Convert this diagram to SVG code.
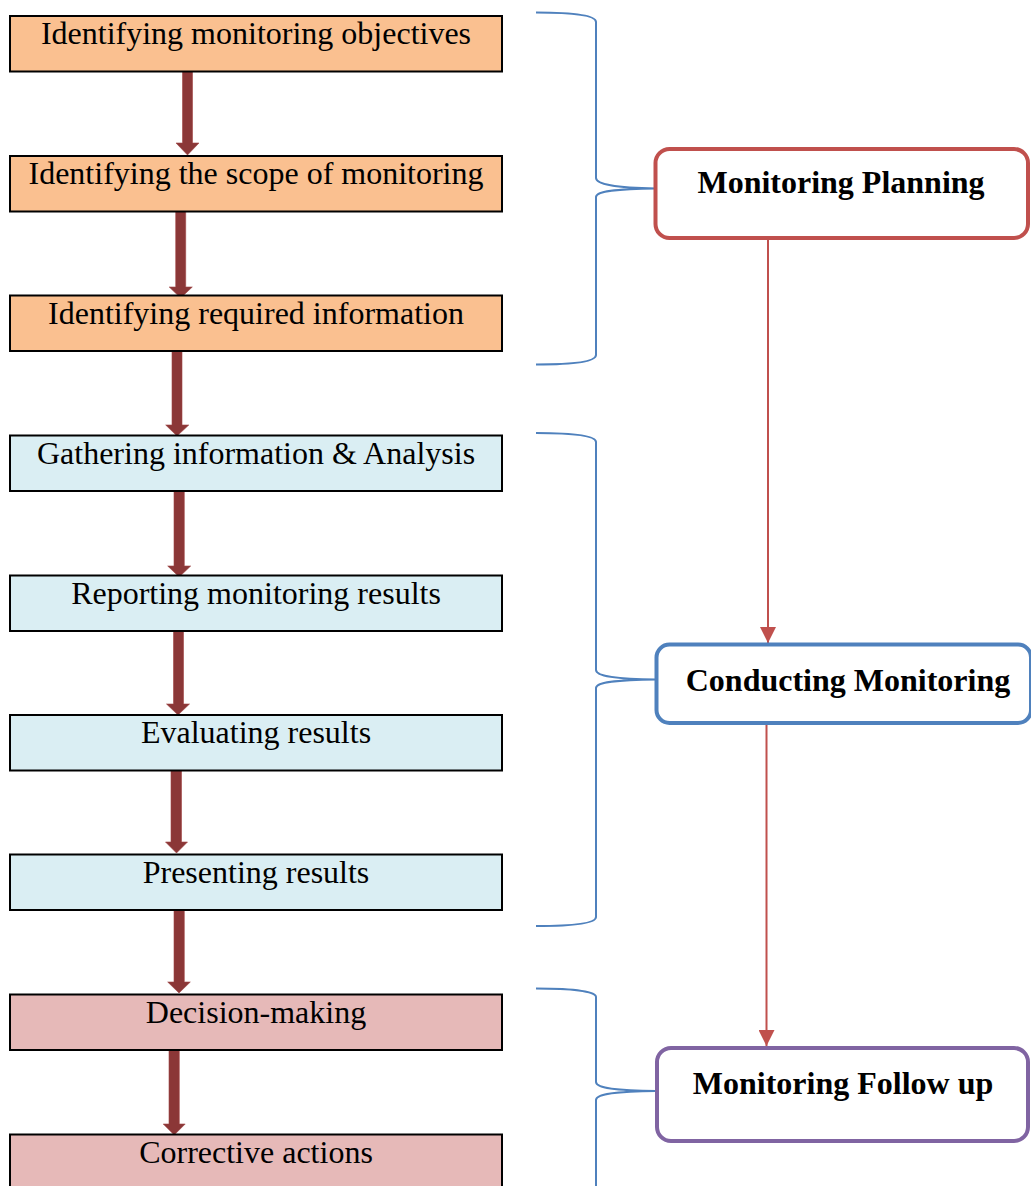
<svg xmlns="http://www.w3.org/2000/svg" width="1031" height="1186" viewBox="0 0 1031 1186">
<style>
.box{stroke:#000;stroke-width:2}
.orange{fill:#FAC090}
.blue{fill:#DAEEF3}
.pink{fill:#E6B9B8}
.t{font-family:"Liberation Serif","Times New Roman",serif;font-size:32px;fill:#000;text-anchor:middle}
.tb{font-family:"Liberation Serif","Times New Roman",serif;font-size:32px;font-weight:bold;fill:#000;text-anchor:middle}
.phase{fill:#fff;stroke-width:4}
.thick{fill:#8B3737;stroke:#A04545;stroke-width:0.6}
.brace{fill:none;stroke:#4F81BD;stroke-width:2}
.link{stroke:#C0504D;stroke-width:2;fill:none}
</style>
<defs>
<marker id="ah" markerUnits="userSpaceOnUse" markerWidth="16" markerHeight="16" refX="15" refY="7.5" orient="auto" viewBox="0 0 15 15">
<path d="M0,0 L15,7.5 L0,15 Z" fill="#C0504D"/>
</marker>
</defs>

<g id="connectors">
<path class="thick" d="M182.5,71 H192.5 V143 H199 L187.5,155 L176,143 H182.5 Z"/>
<path class="thick" d="M175.7,211 H185.7 V287 H192.3 L180.7,298 L169.2,287 H175.7 Z"/>
<path class="thick" d="M172,351 H182 V425 H188.8 L177,436 L165.7,425 H172 Z"/>
<path class="thick" d="M174,487 H184.3 V566 H190.7 L179.2,577 L167.7,566 H174 Z"/>
<path class="thick" d="M173.5,631 H183.5 V704 H189.5 L178,715 L166.5,704 H173.5 Z"/>
<path class="thick" d="M171,771 H181.5 V842 H187.5 L176.5,853 L165.5,842 H171 Z"/>
<path class="thick" d="M174,909 H184.3 V982 H190.3 L179,993 L167.7,982 H174 Z"/>
<path class="thick" d="M169,1045 H179.3 V1124 H185.2 L174.2,1135 L163.2,1124 H169 Z"/>

<path class="brace" d="M536,12.5 C570,12.5 596,15 596,22 V178 C596,184 615,188 656,188.5 C615,189 596,191 596,197 V355 C596,362 570,364.5 536,364.5"/>
<path class="brace" d="M536,433 C570,433 596,435 596,442 V670 C596,676 615,679 656,679.5 C615,680 596,682 596,688 V917 C596,924 570,926 536,926"/>
<path class="brace" d="M536,988.5 C570,988.5 596,991 596,997 V1082 C596,1088 615,1090.5 656,1091 C615,1091.5 596,1094 596,1100 V1190"/>

<line class="link" x1="768" y1="240" x2="768" y2="643" marker-end="url(#ah)"/>
<line class="link" x1="766.5" y1="723" x2="766.5" y2="1046" marker-end="url(#ah)"/>
</g>

<g id="n1"><rect class="box orange" x="10" y="16" width="492" height="55.5"/><text class="t" x="256" y="44.3">Identifying monitoring objectives</text></g>
<g id="n2"><rect class="box orange" x="10" y="156" width="492" height="55.5"/><text class="t" x="256" y="184.3">Identifying the scope of monitoring</text></g>
<g id="n3"><rect class="box orange" x="10" y="295.5" width="492" height="55.5"/><text class="t" x="256" y="324.3">Identifying required information</text></g>
<g id="n4"><rect class="box blue" x="10" y="435.5" width="492" height="55.5"/><text class="t" x="256" y="464.3">Gathering information &amp; Analysis</text></g>
<g id="n5"><rect class="box blue" x="10" y="575.5" width="492" height="55.5"/><text class="t" x="256" y="604.3">Reporting monitoring results</text></g>
<g id="n6"><rect class="box blue" x="10" y="715" width="492" height="55.5"/><text class="t" x="256" y="743.3">Evaluating results</text></g>
<g id="n7"><rect class="box blue" x="10" y="854.5" width="492" height="55.5"/><text class="t" x="256" y="883.3">Presenting results</text></g>
<g id="n8"><rect class="box pink" x="10" y="994.5" width="492" height="55.5"/><text class="t" x="256" y="1023.3">Decision-making</text></g>
<g id="n9"><rect class="box pink" x="10" y="1134.5" width="492" height="60"/><text class="t" x="256" y="1163.3">Corrective actions</text></g>

<g id="p1"><rect class="phase" stroke="#C0504D" x="655.5" y="149" width="372.5" height="89" rx="14"/><text class="tb" x="841" y="193.3">Monitoring Planning</text></g>
<g id="p2"><rect class="phase" stroke="#4F81BD" x="656.5" y="644.5" width="374.5" height="78.5" rx="13"/><text class="tb" x="848" y="690.7">Conducting Monitoring</text></g>
<g id="p3"><rect class="phase" stroke="#8064A2" x="657" y="1048" width="371" height="93" rx="14"/><text class="tb" x="843" y="1094">Monitoring Follow up</text></g>
</svg>
